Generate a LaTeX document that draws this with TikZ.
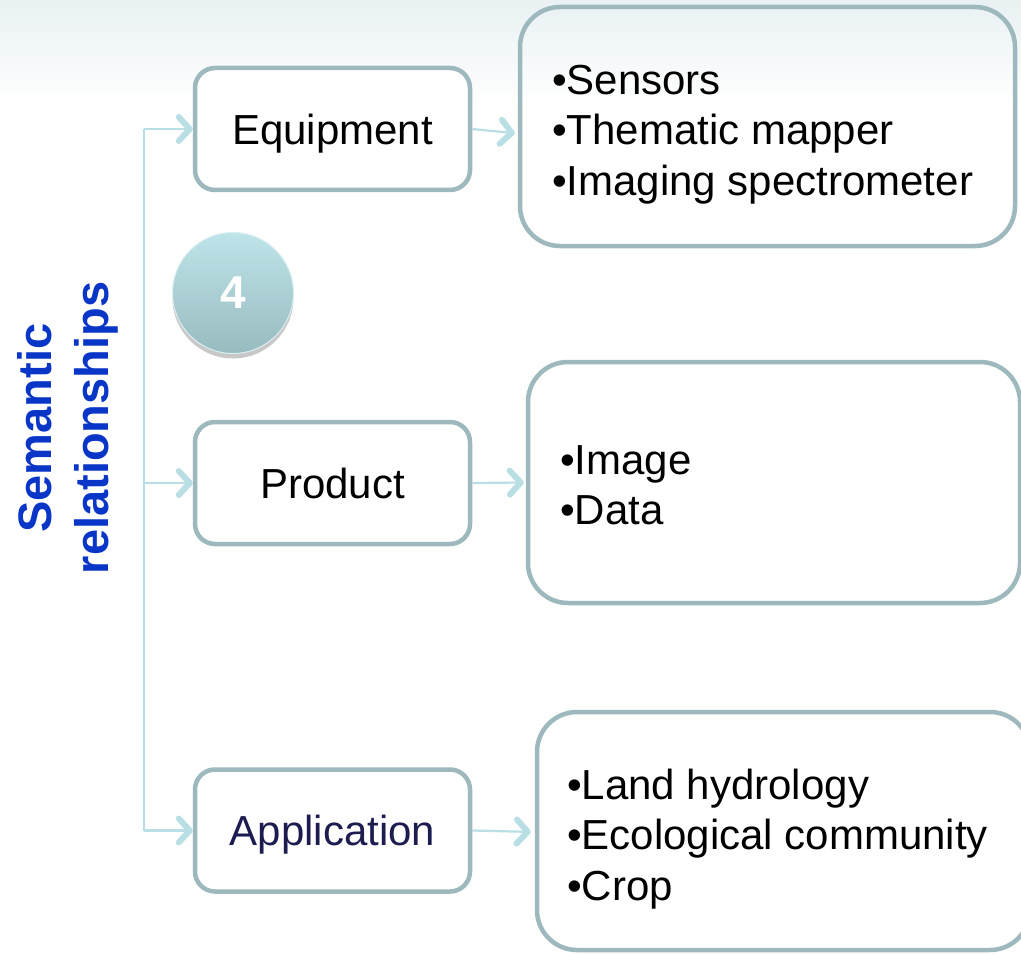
\documentclass[tikz,border=0pt]{standalone}
\usepackage{fontspec}
\setmainfont{Liberation Sans}
\usetikzlibrary{arrows.meta,shadows}
\definecolor{boxc}{HTML}{9DB9BD}
\definecolor{arrc}{HTML}{B9DFE4}
\definecolor{bgtop}{HTML}{E9F1F3}
\definecolor{semblue}{HTML}{0A36C8}
\definecolor{navy}{HTML}{1C1C50}
\definecolor{ctop}{HTML}{BEE4E9}
\definecolor{cbot}{HTML}{98BBBF}
\tikzset{
  lbox/.style={draw=boxc, line width=4.5pt, rounded corners=20pt, fill=white,
    minimum width=275pt, minimum height=122pt, inner sep=0pt, text depth=0pt,
    font=\fontsize{42}{50}\selectfont},
  rbox/.style={draw=boxc, line width=4.5pt, rounded corners=40pt,
    minimum width=#1, inner sep=0pt},
  rtext/.style={anchor=west, align=left, inner sep=0pt,
    font=\fontsize{42}{50.5}\selectfont},
  trunk/.style={draw=arrc, line width=2.2pt},
  arr/.style={draw=arrc, line width=2.2pt,
    -{Straight Barb[length=11pt,width=24pt,line width=6pt 0 1,round]}},
}
\begin{document}
\begin{tikzpicture}[x=1pt,y=-1pt]
\fill[white] (0,0) rectangle (1021,955);
\useasboundingbox (0,0) rectangle (1021,955);
\fill[top color=bgtop, bottom color=white] (0,0) rectangle (1021,105);

% left boxes
\node[lbox] (eq) at (332.5,129) {Equipment};
\node[lbox] (pr) at (332.5,483) {Product};
\node[lbox, text=navy] (ap) at (332.5,830.5) {Application};

% right boxes
\node[rbox=495pt, minimum height=239pt] (eqR) at (767.5,126.5) {};
\node[rbox=492pt, minimum height=241pt] (prR) at (774,482.5) {};
\node[rbox=493pt, minimum height=238pt] (apR) at (783.5,831) {};
\node[rtext] (eqT) at (552,134.5)
  {•Sensors\\•Thematic mapper\\•Imaging spectrometer};
\node[rtext] (prT) at (560,485.5) {•Image\\•Data};
\node[rtext] (apT) at (567,839)
  {•Land hydrology\\•Ecological community\\•Crop};

% left label
\node[rotate=90, align=center, text=semblue,
  font=\bfseries\fontsize{47}{57}\selectfont] (sem) at (68,428)
  {Semantic\\relationships};

% circle
\node[circle, minimum size=121pt, inner sep=0pt, draw=ctop!60!white, line width=1pt,
  top color=ctop, bottom color=cbot,
  drop shadow={shadow xshift=0pt, shadow yshift=-5pt, opacity=0.3, fill=black!70},
  text=white, font=\bfseries\fontsize{46}{52}\selectfont] (num) at (233,293) {4};

% connectors
\coordinate (jt) at (144,129);
\coordinate (jb) at (144,830.5);
\draw[trunk] (jt) -- (jb);
\draw[arr] (jt) -- (eq.west);
\draw[arr] (jt |- pr.west) -- (pr.west);
\draw[arr] (jb) -- (ap.west);
\draw[arr, shorten >=3pt] (eq.east) -- ([yshift=-7pt]eqR.west);
\draw[arr, shorten >=2pt] (pr.east) -- (prR.west);
\draw[arr, shorten >=4pt] (ap.east) -- ([yshift=-1pt]apR.west);
\end{tikzpicture}
\end{document}
